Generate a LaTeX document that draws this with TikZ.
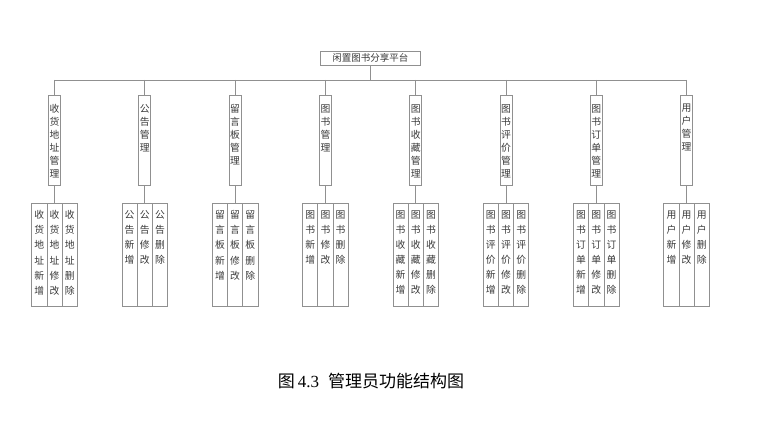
\documentclass[tikz,border=0pt]{standalone}
\usepackage{fontspec}
\newfontfamily\cjk{Noto Sans CJK SC}
\newfontfamily\capserif{Liberation Serif}
\definecolor{lineg}{HTML}{909090}
\definecolor{txtg}{HTML}{383838}
\def\vt#1{\vtaux#1\endvt}
\def\vtaux#1#2\endvt{#1\if\relax\detokenize{#2}\relax\else\\\vtaux#2\endvt\fi}
\def\vtm#1{\expandafter\vt\expandafter{#1}}
\tikzset{
  conn/.style={draw=lineg, line width=0.7pt},
  rootbox/.style={draw=lineg, line width=0.7pt, minimum width=100.7pt, minimum height=14pt, inner sep=0pt, font=\cjk\fontsize{9.5}{11}\selectfont, text=txtg},
  midbox/.style={draw=lineg, line width=0.7pt, minimum width=12pt, minimum height=90pt, inner sep=0pt, anchor=north},
  leafbox/.style={draw=lineg, line width=0.7pt, minimum width=15.2pt, minimum height=103pt, inner sep=0pt, anchor=north},
  midtext/.style={inner sep=0pt, anchor=north, align=center, font=\cjk\fontsize{9.8}{13}\selectfont, text=txtg},
  leaftext/.style={inner sep=0pt, anchor=north, align=center, font=\cjk\fontsize{9.8}{15.1}\selectfont, text=txtg},
}
\begin{document}
\begin{tikzpicture}[x=1pt,y=-1pt]
\useasboundingbox (0,0) rectangle (771,425);
\node[rootbox] (root) at (370.3,58) {闲置图书分享平台};
\coordinate (bus) at (0,80);
\foreach \i/\x/\m/\a/\b/\c in {
  1/54.5/收货地址管理/收货地址新增/收货地址修改/收货地址删除,
  2/144.8/公告管理/公告新增/公告修改/公告删除,
  3/235.1/留言板管理/留言板新增/留言板修改/留言板删除,
  4/325.4/图书管理/图书新增/图书修改/图书删除,
  5/415.7/图书收藏管理/图书收藏新增/图书收藏修改/图书收藏删除,
  6/506.0/图书评价管理/图书评价新增/图书评价修改/图书评价删除,
  7/596.3/图书订单管理/图书订单新增/图书订单修改/图书订单删除,
  8/686.6/用户管理/用户新增/用户修改/用户删除}{
  \node[midbox] (m\i) at (\x,95.3) {};
  \node[midtext] (mt\i) at ([yshift=-8.8pt]m\i.north) {\vtm{\m}};
  \node[leafbox] (l\i b) at (\x,202.7) {};
  \node[leafbox] (l\i a) at (\x-15.2,202.7) {};
  \node[leafbox] (l\i c) at (\x+15.2,202.7) {};
  \node[leaftext] (la\i) at ([yshift=-7.6pt]l\i a.north) {\vtm{\a}};
  \node[leaftext] (lb\i) at ([yshift=-7.6pt]l\i b.north) {\vtm{\b}};
  \node[leaftext] (lc\i) at ([yshift=-7.6pt]l\i c.north) {\vtm{\c}};
  \draw[conn] (m\i.north |- bus) -- (m\i.north);
  \draw[conn] (m\i.south) -- (l\i b.north);
}
\draw[conn] (root.south) -- (root.south |- bus);
\draw[conn] (m1.north |- bus) -- (m8.north |- bus);
\node[inner sep=0pt, text=black, font=\fontsize{17}{20}\selectfont] (cap) at (371,381.5) {{\cjk 图}\hspace{3pt}{\capserif 4.3}\hspace{9pt}{\cjk 管理员功能结构图}};
\end{tikzpicture}
\end{document}
